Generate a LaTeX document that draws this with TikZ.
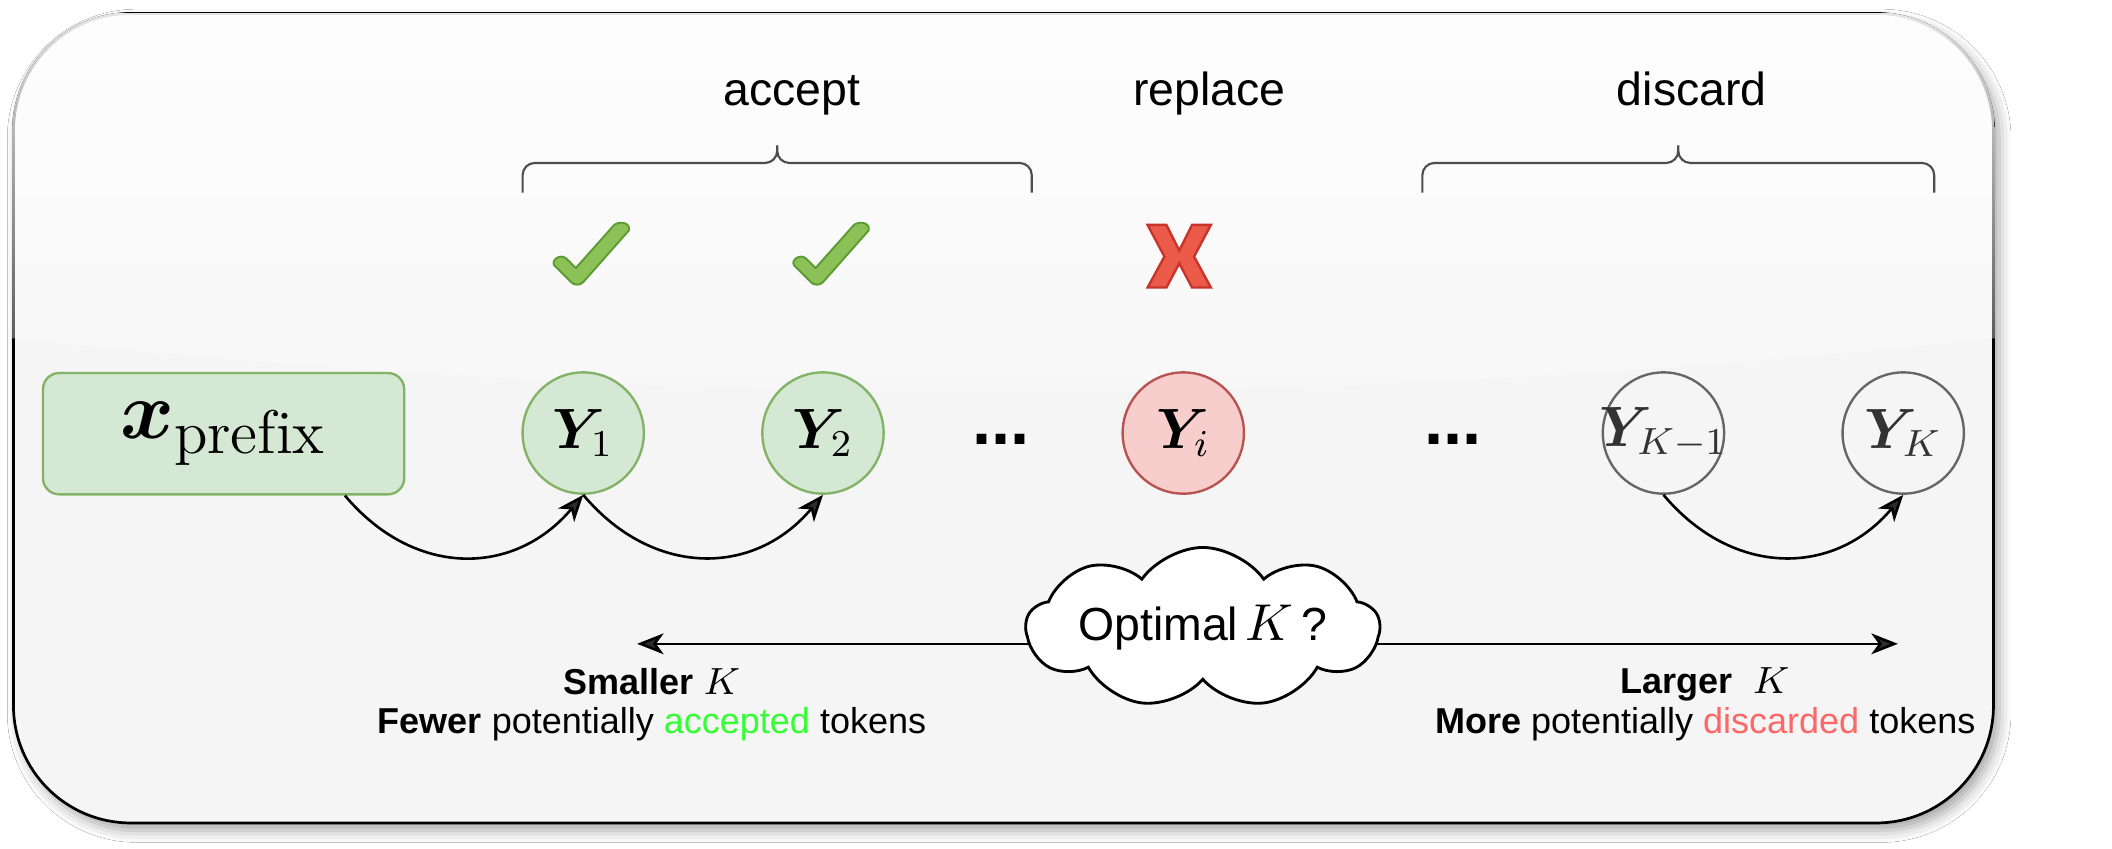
\documentclass[tikz,border=0pt]{standalone}
\usepackage{fontspec}
\usepackage{bm}
\usetikzlibrary{arrows.meta,shapes.symbols,shadows.blur,fadings}
\newfontfamily\helv{Liberation Sans}
\DeclareMathSizes{16}{16}{13}{10}
\definecolor{boxfill}{HTML}{F5F5F5}
\definecolor{okfill}{HTML}{D5E8D4}
\definecolor{okline}{HTML}{82B366}
\definecolor{badfill}{HTML}{F8CECC}
\definecolor{badline}{HTML}{B85450}
\definecolor{offline}{HTML}{666666}
\definecolor{offtext}{HTML}{333333}
\definecolor{tickfill}{HTML}{8CC157}
\definecolor{tickline}{HTML}{5A9B32}
\definecolor{crossfill}{HTML}{EC5A4A}
\definecolor{crossline}{HTML}{C8332A}
\definecolor{acctext}{HTML}{33FF33}
\definecolor{distext}{HTML}{FF6666}
\definecolor{bracecol}{HTML}{4D4D4D}
\pgfdeclarelayer{bg}
\pgfdeclarelayer{mid}
\pgfsetlayers{bg,mid,main}
\tikzfading[name=glassfade, top color=transparent!10, bottom color=transparent!90]
\tikzset{
  okmark/.pic={
    \filldraw[fill=tickfill,draw=tickline,line width=0.4pt,line join=round]
      (17.5,34) -- (46,2) .. controls (50,-1) and (58,0) .. (57,6) -- (23,44.5)
      .. controls (21,47) and (16,47) .. (14,44.5) -- (1.5,32)
      .. controls (-1,28) and (6,23) .. (10.5,27) -- cycle;
  },
  nomark/.pic={
    \filldraw[fill=crossfill,draw=crossline,line width=0.5pt]
      (0,0) -- (14,0) -- (23.5,19) -- (33,0) -- (47,0) -- (34.5,23.5) -- (47,46.5)
      -- (33,46.5) -- (23.5,28.5) -- (14,46.5) -- (0,46.5) -- (12.5,23.5) -- cycle;
  }
}
\begin{document}
\begin{tikzpicture}[x=0.01cm,y=-0.01cm,>={Stealth[length=5.6pt,width=4.4pt,inset=1.6pt]},
    tok/.style={circle,minimum size=0.9cm,inner sep=0pt,line width=0.5pt,font=\fontsize{12}{14}\selectfont},
    acc/.style={tok,draw=okline,fill=okfill},
    rej/.style={tok,draw=badline,fill=badfill},
    later/.style={tok,draw=offline,text=offtext},
    head/.style={font=\helv\fontsize{9.8}{11.8}\selectfont,anchor=base},
    note/.style={font=\helv\fontsize{7.6}{8.3}\selectfont,align=center},
    ellip/.style={font=\helv\bfseries\fontsize{14.5}{16}\selectfont,anchor=base},
    link/.style={->,line width=0.55pt}]
  % frame with glass look
  \begin{pgfonlayer}{bg}
    \path[fill=white,use as bounding box] (0,0) rectangle (1568,630.3);
    \path[blur shadow={shadow xshift=1.2pt,shadow yshift=-1.6pt,shadow blur radius=2.5pt,shadow opacity=35},
      fill=boxfill,draw=black,line width=0.57pt,rounded corners=0.87cm] (10,10) rectangle (1480,611);
    \begin{scope}
      \clip[rounded corners=0.88cm] (9,9) rectangle (1481,612);
      \clip (8,8) -- (8,251) .. controls (500,304) and (990,304) .. (1482,251) -- (1482,8) -- cycle;
      \fill[white,path fading=glassfade] (8,10) rectangle (1482,371);
    \end{scope}
  \end{pgfonlayer}
  % labels and braces
  \node[head] (hacc) at (588,78) {accept};
  \node[head] (hrep) at (898,78) {replace};
  \node[head] (hdis) at (1256,78) {discard};
  \foreach \a/\m/\b in {388/577/766,1056/1246/1436}
    \draw[bracecol,line width=0.45pt,rounded corners=0.09cm]
      (\a,143) |- (\m,121) -- (\m,108) (\b,143) |- (\m,121) -- (\m,108);
  \pic at (410,165) {okmark};
  \pic at (588,165) {okmark};
  \pic at (852,167) {nomark};
  % tokens
  \node[draw=okline,fill=okfill,rounded corners=0.12cm,minimum width=2.68cm,minimum height=0.9cm,
    line width=0.5pt,font=\fontsize{16}{19}\selectfont] (xp) at (166,322) {$\bm{x}_{\mathrm{prefix}}$};
  \node[acc] (y1) at (433,321.5) {$\bm{Y}_1$};
  \node[acc] (y2) at (611,321.5) {$\bm{Y}_2$};
  \node[ellip] (d1) at (743,330) {...};
  \node[rej] (yi) at (878.5,321.5) {$\bm{Y}_i$};
  \node[ellip] (d2) at (1079,330) {...};
  \node[later] (yk1) at (1235,321.5) {\makebox[0pt]{$\bm{Y}_{K-1}$}};
  \node[later] (yk) at (1413,321.5) {$\bm{Y}_K$};
  \draw[link] (xp.-27) to[out=-50,in=-130,looseness=1.15] (y1.south);
  \draw[link] (y1.south) to[out=-50,in=-130,looseness=1.15] (y2.south);
  \draw[link] (yk1.south) to[out=-50,in=-130,looseness=1.15] (yk.south);
  % choice of K
  \node[cloud,cloud puffs=9,cloud puff arc=110,cloud ignores aspect,draw,fill=white,line width=0.6pt,
    minimum width=2.62cm,minimum height=1.19cm,inner sep=0pt,font=\helv\fontsize{9.8}{11.8}\selectfont]
    (optk) at (893,466) {Optimal\,{\fontsize{11.3}{13}\selectfont$K$}\,?};
  \coordinate (lt) at (473,478);
  \coordinate (rt) at (1409,478);
  \begin{pgfonlayer}{mid}
    \draw[link] (optk.center |- lt) -- (lt);
    \draw[link] (optk.center |- rt) -- (rt);
  \end{pgfonlayer}
  \node[note] (lnote) at (484,523) {\textbf{Smaller} {\fontsize{8.5}{8.3}\selectfont$K$}\\
    \textbf{Fewer} potentially \textcolor{acctext}{accepted} tokens};
  \node[note] (rnote) at (1266,523) {\textbf{Larger}\ \ {\fontsize{8.5}{8.3}\selectfont$K$}\\
    \textbf{More} potentially \textcolor{distext}{discarded} tokens};
\end{tikzpicture}
\end{document}
